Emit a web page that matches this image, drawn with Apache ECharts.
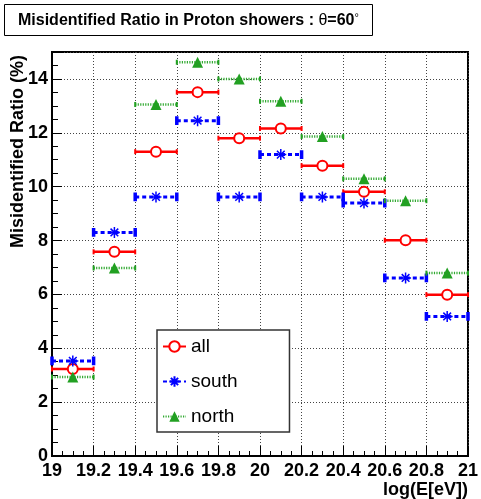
<!DOCTYPE html>
<html>
<head>
<meta charset="utf-8">
<script src="https://cdn.jsdelivr.net/npm/echarts@6/dist/echarts.min.js"></script>
<style>
  html, body { margin: 0; padding: 0; background: #fff; }
  #chart { width: 481px; height: 499px; }
</style>
</head>
<body>
<div id="chart"></div>
<script>
// Bin centres (log10 of energy) and bin width
const binCenters = [19.1, 19.3, 19.5, 19.7, 19.9, 20.1, 20.3, 20.5, 20.7, 20.9];
const binWidth = 0.2;

// Misidentified ratio (%) per bin
const allRatio   = [3.23, 7.58, 11.30, 13.51, 11.80, 12.16, 10.78, 9.81, 8.01, 5.99];
const southRatio = [3.53, 8.30, 9.62, 12.45, 9.62, 11.19, 9.62, 9.39, 6.61, 5.18];
const northRatio = [2.93, 6.98, 13.05, 14.62, 14.00, 13.17, 11.86, 10.29, 9.48, 6.79];

const FONT = 'Liberation Sans, Arial, Helvetica, sans-serif';
const CAP = {symbol: 'rect', symbolSize: [2, 5]};
const ASTERISK = 'path://M0,5 L10,5 M5,0 L5,10 M1.5,1.5 L8.5,8.5 M8.5,1.5 L1.5,8.5';

// horizontal error bar per bin: left cap, marker, right cap, then a break
function binData(values) {
    const out = [];
    values.forEach((v, i) => {
        const x = binCenters[i];
        out.push(Object.assign({value: [x - binWidth / 2, v]}, CAP));
        out.push({value: [x, v]});
        out.push(Object.assign({value: [x + binWidth / 2, v]}, CAP));
        out.push({value: [x + binWidth / 2, '-'], symbol: 'none'});
    });
    return out;
}

const chart = echarts.init(document.getElementById('chart'), null, {renderer: 'canvas'});
chart.setOption({
    animation: false,
    backgroundColor: '#fff',
    textStyle: {fontFamily: FONT},
    title: {
        left: 4,
        top: 4,
        padding: [8, 14, 7, 14],
        borderColor: '#000',
        borderWidth: 1,
        text: '{a|Misidentified Ratio in Proton showers : }{t|θ}{a|=60}{d|°}',
        textStyle: {
            rich: {
                a: {fontFamily: FONT, fontWeight: 'bold', fontSize: 16, color: '#000'},
                t: {fontFamily: FONT, fontWeight: 'normal', fontSize: 16, color: '#000'},
                d: {fontFamily: FONT, fontWeight: 'normal', fontSize: 11, color: '#000', verticalAlign: 'top', padding: [0, 0, 6, 0]}
            }
        }
    },
    legend: {
        orient: 'vertical',
        left: 157,
        top: 330,
        padding: [7, 52, 6, 5],
        itemWidth: 23,
        itemHeight: 13,
        itemGap: 16,
        backgroundColor: '#fff',
        borderColor: '#333',
        borderWidth: 1.5,
        data: ['all', 'south', 'north'],
        textStyle: {fontFamily: FONT, fontSize: 19, color: '#000'}
    },
    grid: {
        left: 52, right: 9, top: 52, bottom: 43,
        show: true, borderColor: '#000', borderWidth: 2, backgroundColor: 'transparent'
    },
    xAxis: {
        type: 'value',
        min: 19, max: 21, interval: 0.2,
        axisLine: {lineStyle: {color: '#000', width: 2}},
        axisTick: {inside: true, length: 10, lineStyle: {color: '#000'}},
        minorTick: {show: true, splitNumber: 4, length: 5, lineStyle: {color: '#000'}},
        splitLine: {show: true, lineStyle: {color: '#444', type: [1, 2], width: 1}},
        axisLabel: {
            fontFamily: FONT, fontSize: 18, fontWeight: 'bold', color: '#000', margin: 6,
            formatter: v => String(Math.round(v * 10) / 10)
        },
        name: 'log(E[eV])',
        nameLocation: 'end',
        nameGap: 0,
        nameTextStyle: {
            fontFamily: FONT, fontSize: 18, fontWeight: 'bold', color: '#000',
            align: 'right', verticalAlign: 'top', padding: [25, 0, 0, 0]
        }
    },
    yAxis: {
        type: 'value',
        min: 0, max: 15, interval: 2,
        axisLine: {lineStyle: {color: '#000', width: 2}},
        axisTick: {inside: true, length: 10, lineStyle: {color: '#000'}},
        minorTick: {show: true, splitNumber: 4, length: 6, lineStyle: {color: '#000'}},
        splitLine: {show: true, lineStyle: {color: '#444', type: [1, 2], width: 1}},
        axisLabel: {
            fontFamily: FONT, fontSize: 18, fontWeight: 'bold', color: '#000', margin: 4,
            showMaxLabel: false
        }
    },
    graphic: [{
        type: 'text',
        x: 18.5,
        y: 151.5,
        rotation: Math.PI / 2,
        style: {
            text: 'Misidentified Ratio (%)',
            font: 'bold 18px ' + FONT,
            fill: '#000',
            textAlign: 'center',
            textVerticalAlign: 'middle'
        }
    }],
    series: [{
        name: 'all',
        type: 'line',
        data: binData(allRatio),
        connectNulls: false,
        symbol: 'emptyCircle',
        symbolSize: 10,
        showAllSymbol: true,
        color: '#ff0000',
        itemStyle: {color: '#ff0000', borderWidth: 1.5},
        lineStyle: {color: '#ff0000', width: 2.5, type: 'solid'},
        z: 3
    }, {
        name: 'south',
        type: 'line',
        data: binData(southRatio),
        connectNulls: false,
        symbol: ASTERISK,
        symbolSize: 11,
        showAllSymbol: true,
        color: '#0000ff',
        itemStyle: {color: '#0000ff', borderColor: '#0000ff', borderWidth: 1.5},
        lineStyle: {color: '#0000ff', width: 3, type: [4, 3]},
        z: 3
    }, {
        name: 'north',
        type: 'line',
        data: binData(northRatio),
        connectNulls: false,
        symbol: 'triangle',
        symbolSize: 11,
        showAllSymbol: true,
        color: '#22a022',
        itemStyle: {color: '#22a022'},
        lineStyle: {color: '#33aa33', width: 2.5, type: [1.2, 1.3]},
        z: 3
    }]
});
</script>
</body>
</html>
